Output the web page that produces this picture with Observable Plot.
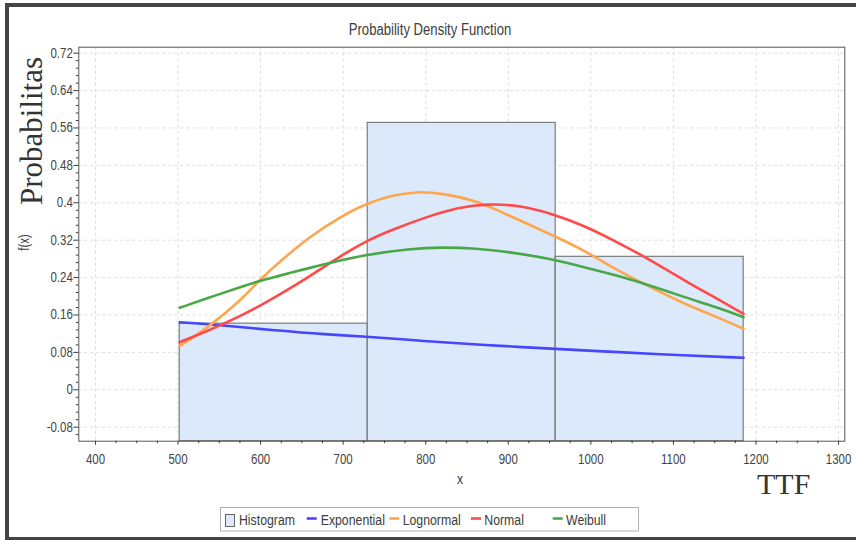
<!DOCTYPE html>
<html><head><meta charset="utf-8">
<script src="https://cdn.jsdelivr.net/npm/d3@7"></script>
<script src="https://cdn.jsdelivr.net/npm/@observablehq/plot@0.6"></script>
<style>
html,body{margin:0;padding:0;background:#fff;}
#wrap{position:relative;width:856px;height:540px;overflow:hidden;background:#fff;}
#border{position:absolute;left:5px;top:3px;width:900px;height:530px;border-left:4px solid #444;border-top:4px solid #444;border-bottom:3px solid #444;}
#wrap svg{position:absolute;left:0;top:0;}
</style></head><body><div id="wrap"><div id="border"></div></div>
<script>
// ---- data ----
const seriesNames = ["Exponential", "Lognormal", "Normal", "Weibull"];
const seriesColors = ["#4646ff", "#ffa64d", "#ff4a4a", "#48a848"];

const binStart = [502, 729.7, 957.4];
const binEnd = [729.7, 957.4, 1185.1];
const binDensity = [0.1415, 0.571, 0.2845];

const expX = [502, 557, 618, 679, 729, 800, 860, 963, 1032, 1113, 1185];
const expY = [0.1446, 0.1375, 0.1268, 0.1183, 0.1140, 0.1040, 0.0969, 0.0868, 0.0806, 0.0736, 0.0684];

const lognX = [502, 537, 578, 598, 618, 658, 699, 729, 759, 788, 820, 860, 883, 923, 963, 992, 1032, 1072, 1113, 1153, 1185];
const lognY = [0.0933, 0.1339, 0.1947, 0.2338, 0.2659, 0.3264, 0.3728, 0.3991, 0.4156, 0.4242, 0.4205, 0.4049, 0.3872, 0.3551, 0.3230, 0.2980, 0.2552, 0.2195, 0.1840, 0.1553, 0.1305];

const normX = [502, 537, 578, 618, 658, 699, 729, 759, 800, 840, 875, 915, 951, 992, 1032, 1072, 1113, 1153, 1185];
const normY = [0.1018, 0.1268, 0.1589, 0.1981, 0.2409, 0.2885, 0.3194, 0.3422, 0.3692, 0.3906, 0.3979, 0.3942, 0.3778, 0.3514, 0.3157, 0.2781, 0.2338, 0.1947, 0.1626];

const weibX = [502, 537, 578, 596, 618, 658, 679, 729, 780, 820, 860, 903, 951, 992, 1032, 1072, 1113, 1153, 1185];
const weibY = [0.1754, 0.1968, 0.2210, 0.2317, 0.2417, 0.2601, 0.2695, 0.2894, 0.3016, 0.3050, 0.3029, 0.2943, 0.2802, 0.2622, 0.2445, 0.2231, 0.1981, 0.1767, 0.1553];

const xTickValues = [400, 500, 600, 700, 800, 900, 1000, 1100, 1200, 1300];
const yTickValues = [-0.08, 0, 0.08, 0.16, 0.24, 0.32, 0.4, 0.48, 0.56, 0.64, 0.72];

const titleText = "Probability Density Function";
const xLabel = "x";
const yLabel = "f(x)";
const bigYLabel = "Probabilitas";
const bigXLabel = "TTF";
const histLabel = "Histogram";

// ---- build tables ----
const bins = binStart.map((s, i) => ({x1: s, x2: binEnd[i], y: binDensity[i]}));
const curveSets = [[expX, expY], [lognX, lognY], [normX, normY], [weibX, weibY]];
const curves = curveSets.flatMap(([xs, ys], k) => xs.map((x, i) => ({series: seriesNames[k], x, y: ys[i]})));

const xDomain = [379.8, 1307.6];
const yDomain = [-0.110, 0.7328];
const xMinor = d3.range(16, 53).filter(i => i % 4 !== 0).map(i => i * 25);
const yMinor = d3.range(-6, 46).filter(i => i % 5 !== 0).map(i => +(i * 0.016).toFixed(3));
const fmtY = d => String(+d.toFixed(2));

const font = '"Liberation Sans",Arial,sans-serif';
const serif = '"Liberation Serif","Times New Roman",serif';
const textColor = "#3c3c3c";

const svg = Plot.plot({
  width: 856, height: 540,
  marginLeft: 78.3, marginRight: 11.7, marginTop: 46.7, marginBottom: 99.3,
  style: {fontFamily: font, fontSize: "14px", color: textColor, background: "transparent", overflow: "visible"},
  x: {domain: xDomain},
  y: {domain: yDomain},
  color: {domain: seriesNames, range: seriesColors},
  marks: [
    Plot.gridX(xTickValues, {stroke: "#dcdcdc", strokeOpacity: 1, strokeDasharray: "3,3"}),
    Plot.gridY(yTickValues, {stroke: "#dcdcdc", strokeOpacity: 1, strokeDasharray: "3,3"}),
    Plot.rect(bins, {x1: "x1", x2: "x2", y1: () => yDomain[0], y2: "y", fill: "#dbe9fb", stroke: "#666", strokeWidth: 1}),
    Plot.line(curves, {x: "x", y: "y", z: "series", stroke: "series", strokeWidth: 2.6, curve: "basis"}),
    Plot.frame({stroke: "#555"}),
    Plot.axisX(xTickValues, {tickSize: 4, tickPadding: 9, tickFormat: d => String(d), label: null, fill: "#444"}),
    Plot.axisX(xMinor, {tickSize: 2.5, fill: "none", label: null}),
    Plot.axisY(yTickValues, {tickSize: 5, tickPadding: 1, tickFormat: fmtY, label: null, fill: "#444"}),
    Plot.axisY(yMinor, {tickSize: 2.5, fill: "none", label: null})
  ]
});

// condense the sans-serif texts horizontally, as in the reference
svg.querySelectorAll("text").forEach(t => {
  const x = +(t.getAttribute("x") || 0);
  const tr = t.getAttribute("transform") || "";
  t.setAttribute("transform", `${tr} translate(${x},0) scale(0.82,1) translate(${-x},0)`);
});

const s = d3.select(svg);
function sansText(parent, tx, ty, rot, anchor, size, str) {
  return parent.append("text")
    .attr("transform", `translate(${tx},${ty})${rot ? " rotate(" + rot + ")" : ""} scale(0.82,1)`)
    .attr("text-anchor", anchor).style("font-family", font).style("font-size", size + "px")
    .attr("fill", textColor).text(str);
}
sansText(s, 430, 35, 0, "middle", 16, titleText);
sansText(s, 460, 484, 0, "middle", 15, xLabel);
sansText(s, 29, 242.5, -90, "middle", 14, yLabel);
s.append("text").attr("transform", "translate(42,131) rotate(-90)").attr("text-anchor", "middle")
  .style("font-family", serif).style("font-size", "31px").attr("fill", "#333").text(bigYLabel);
s.append("text").attr("x", 757).attr("y", 494).attr("text-anchor", "start")
  .style("font-family", serif).style("font-size", "30px").attr("fill", "#333").text(bigXLabel);

// legend
const lg = s.append("g");
lg.append("rect").attr("x", 220.5).attr("y", 507.5).attr("width", 418).attr("height", 23.5).attr("fill", "#fff").attr("stroke", "#b0b0b0");
lg.append("rect").attr("x", 225.5).attr("y", 514.5).attr("width", 9).attr("height", 12).attr("fill", "#dbe9fb").attr("stroke", "#666");
sansText(lg, 239, 524.5, 0, "start", 15, histLabel);
const lineStarts = [306.7, 389.3, 471, 552.7];
const textStarts = [320.7, 402.7, 484.3, 566];
seriesNames.forEach((n, i) => {
  lg.append("line").attr("x1", lineStarts[i]).attr("x2", lineStarts[i] + 10).attr("y1", 518.5).attr("y2", 518.5)
    .attr("stroke", seriesColors[i]).attr("stroke-width", 2.6);
  sansText(lg, textStarts[i], 524.5, 0, "start", 15, n);
});

document.getElementById("wrap").appendChild(svg);
</script>
</body></html>
